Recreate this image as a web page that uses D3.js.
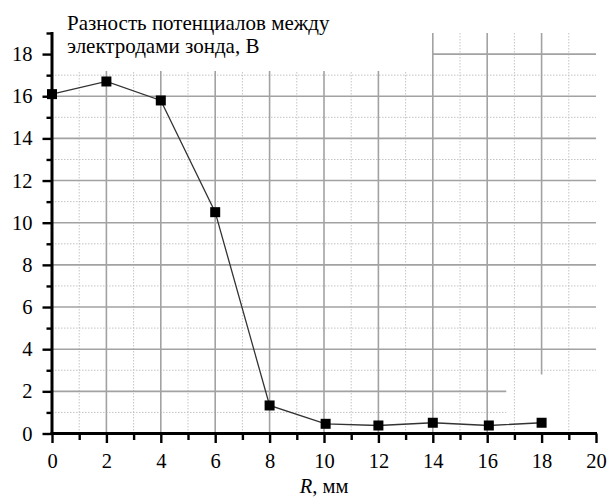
<!DOCTYPE html>
<html>
<head>
<meta charset="utf-8">
<script src="https://cdn.jsdelivr.net/npm/d3@7"></script>
<style>
  html, body { margin: 0; padding: 0; background: #fff; }
  svg { display: block; }
  svg text { font-family: "Liberation Serif", "Times New Roman", Times, "DejaVu Serif", "Noto Serif", serif; }
</style>
</head>
<body>
<svg id="chart" width="609" height="497"></svg>
<script>
// Probe measurements: distance R (mm) and potential difference (V)
const radius = [0, 2, 4, 6, 8, 10.06, 12, 14, 16.06, 18];
const voltage = [16.1, 16.7, 15.8, 10.5, 1.33, 0.46, 0.38, 0.51, 0.38, 0.51];

const xMajorTicks = [0, 2, 4, 6, 8, 10, 12, 14, 16, 18, 20];
const xMinorTicks = [1, 3, 5, 7, 9, 11, 13, 15, 17, 19];
const yMajorTicks = [0, 2, 4, 6, 8, 10, 12, 14, 16, 18];
const yMinorTicks = [1, 3, 5, 7, 9, 11, 13, 15, 17, 19];

const titleLines = ["Разность потенциалов между", "электродами зонда, В"];

// Grid pieces in data units: [fixed value, from, to]
const vGridMajor = [[2, 0, 17.2], [4, 0, 17.2], [6, 0, 17.2], [8, 0, 17.2], [10, 0, 17.2], [12, 0, 17.2],
                    [14, 0, 19], [16, 0, 19], [18, 2.8, 19]];
const vGridMinor = [[1, 0, 17.2], [3, 0, 17.2], [5, 0, 17.2], [7, 0, 17.2], [9, 0, 17.2], [11, 0, 17.2],
                    [13, 0, 17.2], [15, 0, 19], [17, 0, 19], [19, 0, 19]];
const hGridMajor = [[2, 0, 16.7], [4, 0, 20], [6, 0, 20], [8, 0, 20], [10, 0, 20], [12, 0, 20],
                    [14, 0, 20], [16, 0, 20], [18, 14, 20]];
const hGridMinor = [[1, 0, 16.7], [3, 0, 20], [5, 0, 20], [7, 0, 20], [9, 0, 20], [11, 0, 20],
                    [13, 0, 20], [15, 0, 20], [17, 0, 20]];

const FONT = "'Liberation Serif', 'Times New Roman', Times, 'DejaVu Serif', 'Noto Serif', serif";

const svg = d3.select("#chart");
const x = d3.scaleLinear().domain([0, 20]).range([52, 596]);
const y = d3.scaleLinear().domain([0, 19]).range([433.5, 33]);

// grid
const grid = svg.append("g");
grid.selectAll("line.vmin").data(vGridMinor).join("line")
  .attr("x1", d => x(d[0])).attr("x2", d => x(d[0]))
  .attr("y1", d => y(d[1])).attr("y2", d => y(d[2]))
  .attr("stroke", "#c4c4c4").attr("stroke-width", 1).attr("stroke-dasharray", "1.5,1.5");
grid.selectAll("line.hmin").data(hGridMinor).join("line")
  .attr("y1", d => y(d[0])).attr("y2", d => y(d[0]))
  .attr("x1", d => x(d[1])).attr("x2", d => x(d[2]))
  .attr("stroke", "#c4c4c4").attr("stroke-width", 1).attr("stroke-dasharray", "1.5,1.5");
grid.selectAll("line.vmaj").data(vGridMajor).join("line")
  .attr("x1", d => x(d[0])).attr("x2", d => x(d[0]))
  .attr("y1", d => y(d[1])).attr("y2", d => y(d[2]))
  .attr("stroke", "#a2a2a2").attr("stroke-width", 1.6);
grid.selectAll("line.hmaj").data(hGridMajor).join("line")
  .attr("y1", d => y(d[0])).attr("y2", d => y(d[0]))
  .attr("x1", d => x(d[1])).attr("x2", d => x(d[2]))
  .attr("stroke", "#a2a2a2").attr("stroke-width", 1.6);

// axes
const axisY0 = y(0), axisX0 = x(0);

const xMinor = svg.append("g").attr("transform", `translate(0,${axisY0})`)
  .call(d3.axisBottom(x).tickValues(xMinorTicks).tickSize(6.5).tickFormat(""));
const xMajor = svg.append("g").attr("transform", `translate(0,${axisY0})`)
  .call(d3.axisBottom(x).tickValues(xMajorTicks).tickSize(9.5).tickPadding(10).tickFormat(d3.format("d")));
const yMinor = svg.append("g").attr("transform", `translate(${axisX0},0)`)
  .call(d3.axisLeft(y).tickValues(yMinorTicks).tickSize(5.5).tickFormat(""));
const yMajor = svg.append("g").attr("transform", `translate(${axisX0},0)`)
  .call(d3.axisLeft(y).tickValues(yMajorTicks).tickSize(9.5).tickPadding(10).tickFormat(d3.format("d")));

[xMinor, xMajor, yMinor, yMajor].forEach(g => {
  g.attr("font-family", FONT).attr("font-size", 20.5);
  g.selectAll(".domain").remove();
  g.selectAll(".tick line").attr("stroke", "#000").attr("stroke-width", 2.4);
  g.selectAll(".tick text").attr("fill", "#000").attr("font-family", FONT).attr("font-size", 20.5);
});

// axis lines
svg.append("line").attr("x1", axisX0).attr("x2", axisX0).attr("y1", axisY0 + 1.5).attr("y2", y(19) - 1)
  .attr("stroke", "#000").attr("stroke-width", 3);
svg.append("line").attr("x1", axisX0 - 1.5).attr("x2", x(20) + 1).attr("y1", axisY0).attr("y2", axisY0)
  .attr("stroke", "#000").attr("stroke-width", 3);

// series
const line = d3.line().x((d, i) => x(radius[i])).y(d => y(d));
svg.append("path").datum(voltage).attr("d", line)
  .attr("fill", "none").attr("stroke", "#333").attr("stroke-width", 1.3);
const mk = 10;
svg.selectAll("rect.pt").data(voltage).join("rect")
  .attr("x", (d, i) => x(radius[i]) - mk / 2).attr("y", d => y(d) - mk / 2)
  .attr("width", mk).attr("height", mk).attr("fill", "#000");

// titles
svg.append("text").attr("x", 67).attr("y", 30).attr("font-family", FONT).attr("font-size", 21)
  .selectAll("tspan").data(titleLines).join("tspan")
  .attr("x", 67).attr("dy", (d, i) => i === 0 ? 0 : 23).text(d => d);

const xl = svg.append("text").attr("x", x(10)).attr("y", 493).attr("text-anchor", "middle")
  .attr("font-family", FONT).attr("font-size", 20.5);
xl.append("tspan").attr("font-style", "italic").text("R");
xl.append("tspan").text(", мм");
</script>
</body>
</html>
